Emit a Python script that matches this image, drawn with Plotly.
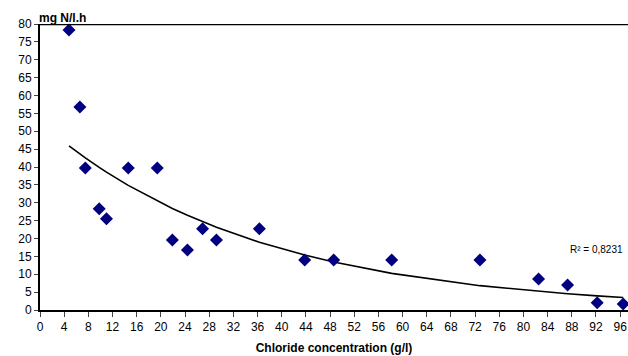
import numpy as np
import plotly.graph_objects as go

chloride = [4.8, 6.6, 7.5, 9.8, 11.0, 14.6, 19.4, 21.9, 24.4, 26.9, 29.2, 36.3,
            43.8, 48.6, 58.2, 72.8, 82.5, 87.3, 92.2, 96.5]
rate = [78.3, 56.8, 39.7, 28.3, 25.5, 39.7, 39.7, 19.6, 16.8, 22.7, 19.6, 22.7,
        14.0, 14.0, 14.0, 14.0, 8.7, 7.0, 2.0, 1.7]
x_ticks = list(range(0, 97, 4))
y_ticks = list(range(0, 81, 5))
r2_label = "R² = 0,8231"

# exponential trendline (Excel style: least squares on ln y)
xs = np.array(chloride)
ys = np.array(rate)
b, ln_a = np.polyfit(xs, np.log(ys), 1)
order = np.argsort(xs)
trend_x = xs[order]
trend_y = np.exp(ln_a) * np.exp(b * trend_x)

font = "Liberation Sans, Arial, sans-serif"
fig = go.Figure()
fig.add_trace(go.Scatter(x=trend_x, y=trend_y, mode="lines",
                         line=dict(color="black", width=1.6), hoverinfo="skip"))
fig.add_trace(go.Scatter(x=chloride, y=rate, mode="markers",
                         marker=dict(symbol="diamond", size=10, color="#000080",
                                     line=dict(width=0)), cliponaxis=False))
fig.add_shape(type="line", xref="paper", yref="y", x0=0, x1=1, y0=80, y1=80,
              line=dict(color="black", width=2.5))
fig.add_annotation(xref="paper", yref="paper", x=0, y=1, xanchor="left", yanchor="bottom",
                   text="<b>mg N/l.h</b>", showarrow=False, yshift=-3, xshift=-3,
                   font=dict(family=font, size=12, color="black"))
fig.add_annotation(x=96.8, y=17, xref="x", yref="y", xanchor="right", yanchor="middle",
                   text=r2_label, showarrow=False,
                   font=dict(family=font, size=10, color="black"))
fig.update_layout(
    width=628, height=356, margin=dict(l=40, r=0, t=24, b=46),
    paper_bgcolor="white", plot_bgcolor="white", showlegend=False,
    font=dict(family=font, size=12, color="black"),
    xaxis=dict(range=[0, 97.3], tickvals=x_ticks, ticks="outside", ticklen=5,
               tickwidth=1, showgrid=False, zeroline=False, showline=True,
               linecolor="black", linewidth=2, tickfont=dict(size=12), automargin=False,
               ticklabeloverflow="allow",
               title=dict(text="<b>Chloride concentration (g/l)</b>", standoff=10,
                          font=dict(size=12))),
    yaxis=dict(range=[0, 80], tickvals=y_ticks, ticks="outside", ticklen=4,
               tickwidth=1, showgrid=False, zeroline=False, showline=True, automargin=False,
               linecolor="black", linewidth=2, tickfont=dict(size=12)),
)
fig.write_html("out.html", config={"displayModeBar": False},
               post_script="document.body.style.margin='0';document.body.style.overflow='hidden';")
